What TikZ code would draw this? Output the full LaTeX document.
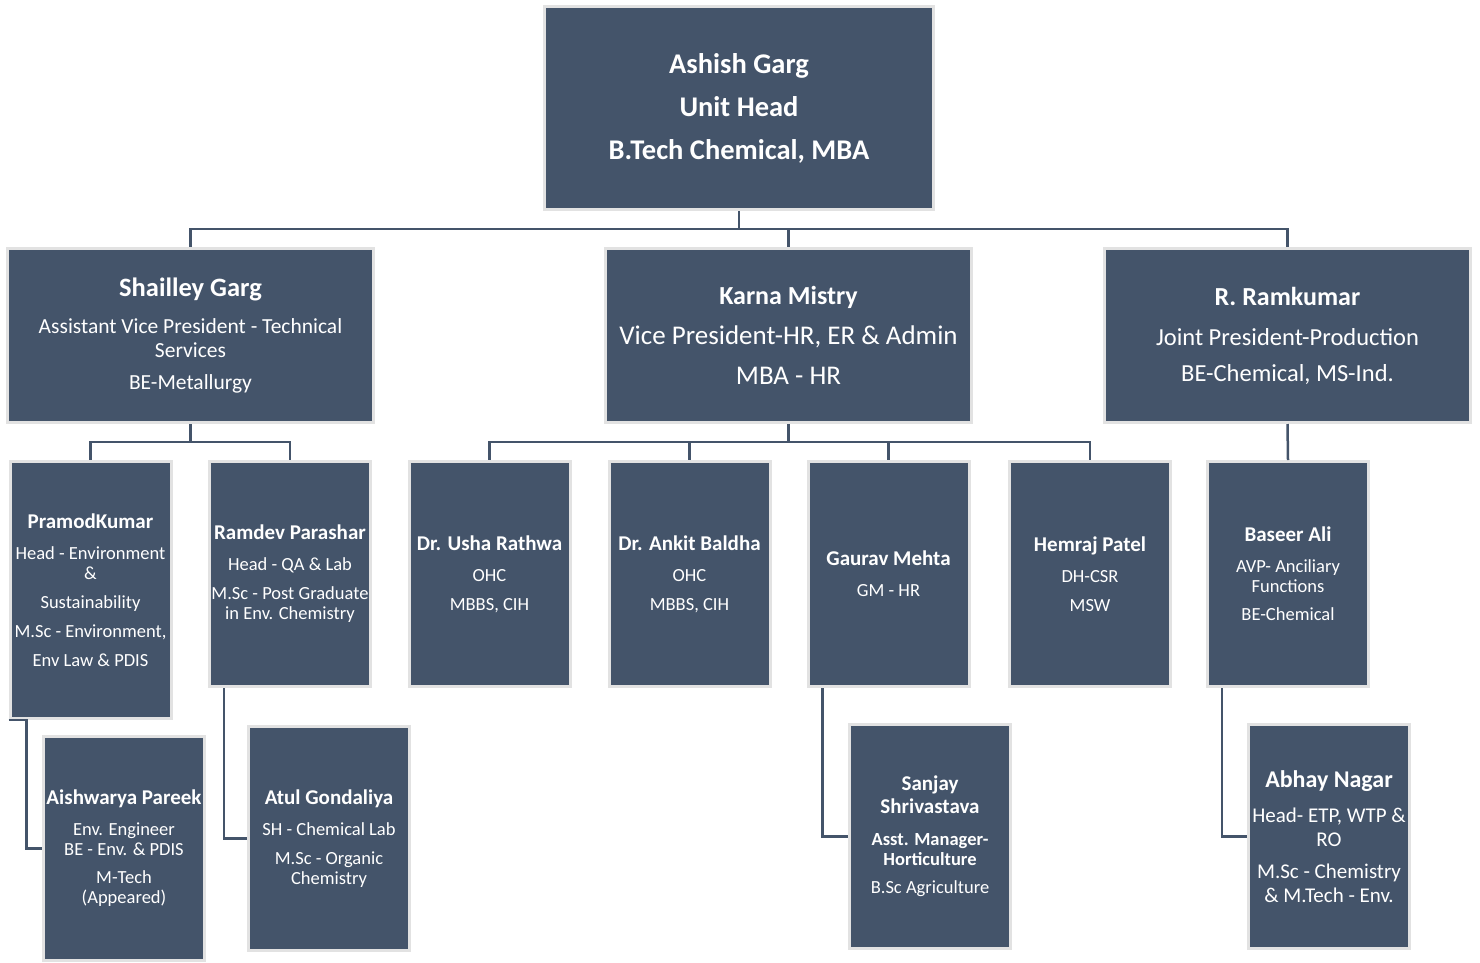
\documentclass[tikz,border=0pt]{standalone}
\usepackage{fontspec}
\setmainfont{Carlito}
\definecolor{orgfill}{HTML}{44546A}
\definecolor{orgedge}{HTML}{E2E2E2}
\newcommand{\empname}[1]{{\fontsize{21}{20}\selectfont\bfseries #1}}

\begin{document}
\begin{tikzpicture}[
    x=1pt, y=-1pt,
    box/.style={rectangle, fill=orgfill, draw=orgedge, line width=3pt, text=white, align=center, inner sep=0pt},
    headbox/.style={box, minimum width=366pt, minimum height=174pt},
    staffbox/.style={box, minimum width=161pt, minimum height=225pt, font=\fontsize{18.5}{20}\selectfont},
    conn/.style={draw=orgfill, line width=2.5pt}
]
\useasboundingbox (0,0) rectangle (1480,962);

% Unit head
\node[box, minimum width=389pt, minimum height=203pt, font=\fontsize{28.5}{43}\selectfont\bfseries] (ashish) at (739,108)
    {Ashish Garg\\Unit Head\\B.Tech Chemical, MBA};

% Level 1
\node[headbox, font=\fontsize{21.5}{24}\selectfont] (shailley) at (190.5,335.5)
    {{\fontsize{26.5}{24}\selectfont\bfseries Shailley Garg}\\[13pt]Assistant Vice President - Technical\\Services\\[8pt]BE-Metallurgy};
\node[headbox, font=\fontsize{27}{40}\selectfont] (karna) at (788.5,335.5)
    {{\fontsize{26}{24}\selectfont\bfseries Karna Mistry}\\Vice President-HR, ER \& Admin\\MBA - HR};
\node[headbox, font=\fontsize{24.5}{36}\selectfont] (ramkumar) at (1287.5,335.5)
    {{\fontsize{26}{24}\selectfont\bfseries R. Ramkumar}\\[4pt]Joint President-Production\\BE-Chemical, MS-Ind.};

% Level 2
\node[staffbox, minimum height=257pt] (pramod) at (90.5,590)
    {\empname{PramodKumar}\\[11pt]Head - Environment\\\&\\[9pt]Sustainability\\[9pt]M.Sc - Environment,\\[9pt]Env Law \& PDIS};
\node[staffbox] (ramdev) at (290,574)
    {\empname{Ramdev Parashar}\\[11pt]Head - QA \& Lab\\[9pt]M.Sc - Post Graduate\\in Env. Chemistry};
\node[staffbox] (usha) at (489.5,574)
    {\empname{Dr. Usha Rathwa}\\[11pt]OHC\\[9pt]MBBS, CIH};
\node[staffbox] (ankit) at (689.5,574)
    {\empname{Dr. Ankit Baldha}\\[11pt]OHC\\[9pt]MBBS, CIH};
\node[staffbox] (gaurav) at (888.5,574)
    {\empname{Gaurav Mehta}\\[11pt]GM - HR};
\node[staffbox] (hemraj) at (1090,574)
    {\empname{Hemraj Patel}\\[11pt]DH-CSR\\[9pt]MSW};
\node[staffbox] (baseer) at (1288,574)
    {\empname{Baseer Ali}\\[11pt]AVP- Anciliary\\Functions\\[8pt]BE-Chemical};

% Level 3
\node[staffbox, minimum height=224pt] (aishwarya) at (124,848.5)
    {\empname{Aishwarya Pareek}\\[11pt]Env. Engineer\\BE - Env. \& PDIS\\[8pt]M-Tech\\(Appeared)};
\node[staffbox, minimum height=224pt] (atul) at (329,838.5)
    {\empname{Atul Gondaliya}\\[11pt]SH - Chemical Lab\\[9pt]M.Sc - Organic\\Chemistry};
\node[staffbox, minimum height=224pt] (sanjay) at (930,836.5)
    {\empname{Sanjay}\\[3pt]\empname{Shrivastava}\\[12pt]\textbf{Asst. Manager-}\\\textbf{Horticulture}\\[8pt]B.Sc Agriculture};
\node[staffbox, minimum height=224pt, font=\fontsize{21}{24}\selectfont] (abhay) at (1329,836.5)
    {{\fontsize{24}{24}\selectfont\bfseries Abhay Nagar}\\[11pt]Head- ETP, WTP \&\\RO\\[8pt]M.Sc - Chemistry\\\& M.Tech - Env.};

% Connectors
\foreach \c in {shailley, karna, ramkumar}
    \draw[conn] (ashish.south) -- ++(0,18) -| (\c.north);
\foreach \c in {pramod, ramdev}
    \draw[conn] (shailley.south) -- ++(0,18) -| (\c.north);
\foreach \c in {usha, ankit, gaurav, hemraj}
    \draw[conn] (karna.south) -- ++(0,18) -| (\c.north);
\draw[conn] (ramkumar.south) -- (baseer.north);

\draw[conn] (pramod.south west) -- ++(18,0) |- (aishwarya.west);
\draw[conn] ([xshift=16pt]ramdev.south west) |- (atul.west);
\draw[conn] ([xshift=16pt]gaurav.south west) |- (sanjay.west);
\draw[conn] ([xshift=16pt]baseer.south west) |- (abhay.west);

\end{tikzpicture}
\end{document}
